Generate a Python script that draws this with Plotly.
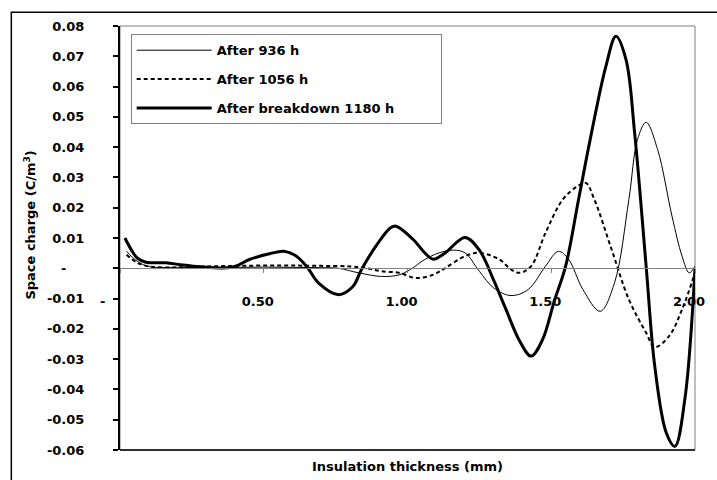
import plotly.graph_objects as go

# ---------------- data ----------------
x_936 = [0.023, 0.06, 0.10, 0.20, 0.30, 0.40, 0.50, 0.60, 0.70, 0.76, 0.83, 0.91, 0.97,
         1.01, 1.06, 1.11, 1.16, 1.20, 1.25, 1.30, 1.36, 1.42, 1.48, 1.525, 1.56, 1.61,
         1.67, 1.72, 1.77, 1.80, 1.83, 1.87, 1.92, 1.955, 1.98, 2.00]
y_936 = [0.0056, 0.0023, 0.0006, 0.0003, 0.0002, 0.0003, 0.0004, 0.0003, 0.0002, 0.0000,
         -0.0015, -0.0027, -0.0022, -0.0004, 0.0029, 0.0051, 0.0060, 0.0051, -0.0010,
         -0.0065, -0.0090, -0.0070, 0.0007, 0.0056, 0.0030, -0.0070, -0.0142, -0.0048,
         0.0227, 0.0425, 0.0482, 0.0392, 0.0172, 0.0040, -0.0015, 0.0007]

x_1056 = [0.023, 0.06, 0.11, 0.20, 0.30, 0.40, 0.50, 0.60, 0.70, 0.80, 0.86, 0.91, 0.97,
          1.03, 1.09, 1.13, 1.20, 1.25, 1.32, 1.36, 1.39, 1.43, 1.48, 1.54, 1.59, 1.62,
          1.65, 1.71, 1.77, 1.83, 1.86, 1.91, 1.955, 2.00]
y_1056 = [0.0045, 0.0018, 0.0005, 0.0003, 0.0006, 0.0008, 0.0009, 0.0009, 0.0008, 0.0006,
          0.0000, -0.0010, -0.0015, -0.0032, -0.0021, 0.0000, 0.0040, 0.0051, 0.0029,
          -0.0004, -0.0015, 0.0007, 0.0117, 0.0227, 0.0270, 0.0282, 0.0227, 0.0062,
          -0.0103, -0.0213, -0.0260, -0.0224, -0.0136, -0.0015]

x_1180 = [0.017, 0.04, 0.06, 0.09, 0.16, 0.21, 0.28, 0.36, 0.40, 0.45, 0.52, 0.57, 0.61,
          0.65, 0.69, 0.76, 0.81, 0.84, 0.89, 0.94, 0.96, 1.02, 1.06, 1.09, 1.13, 1.20,
          1.25, 1.30, 1.34, 1.39, 1.43, 1.47, 1.51, 1.55, 1.595, 1.64, 1.69, 1.725, 1.76,
          1.79, 1.83, 1.86, 1.90, 1.93, 1.965, 2.00]
y_1180 = [0.0100, 0.0060, 0.0034, 0.0020, 0.0018, 0.0012, 0.0005, 0.0001, 0.0006, 0.0029,
          0.0048, 0.0056, 0.0042, 0.0005, -0.0048, -0.0087, -0.0060, -0.0004, 0.0073,
          0.0133, 0.0139, 0.0095, 0.0051, 0.0030, 0.0050, 0.0102, 0.0060, -0.0040,
          -0.0130, -0.0240, -0.0290, -0.0235, -0.0110, 0.0007, 0.0227, 0.0447, 0.0667,
          0.0766, 0.0689, 0.0447, 0.0007, -0.0323, -0.0543, -0.0588, -0.0430, 0.0000]

series_names = ["After 936 h", "After 1056 h", "After breakdown 1180 h"]

y_tick_vals = [0.08, 0.07, 0.06, 0.05, 0.04, 0.03, 0.02, 0.01, 0.0,
               -0.01, -0.02, -0.03, -0.04, -0.05, -0.06]
y_tick_text = ["0.08", "0.07", "0.06", "0.05", "0.04", "0.03", "0.02", "0.01",
               "-\u00a0\u00a0\u00a0\u00a0",
               "-0.01", "-0.02", "-0.03", "-0.04", "-0.05", "-0.06"]
x_tick_vals = [0.0, 0.5, 1.0, 1.5, 2.0]
x_tick_text = ["-\u00a0\u00a0\u00a0\u00a0\u00a0", "0.50", "1.00", "1.50", "2.00"]

x_title = "Insulation thickness (mm)"
y_title = "Space charge (C/m<sup>3</sup>)"

# ---------------- figure ----------------
FONT = dict(family="DejaVu Sans", size=13, color="black", weight="bold")
X_POS = 0.06 / 0.14  # x axis drawn at y = 0
PAD = "\u00a0" * 9   # widens the legend box like the reference

fig = go.Figure()
fig.add_trace(go.Scatter(x=x_936, y=y_936, name=series_names[0], mode="lines",
                         line=dict(color="black", width=1, shape="spline"),
                         legendgroup="a"))
fig.add_trace(go.Scatter(x=x_1056, y=y_1056, name=series_names[1], mode="lines",
                         line=dict(color="black", width=2, dash="4px,3px", shape="spline"),
                         legendgroup="b"))
fig.add_trace(go.Scatter(x=x_1180, y=y_1180, name=series_names[2] + PAD, mode="lines",
                         line=dict(color="black", width=3, shape="spline"),
                         legendgroup="c"))

fig.update_layout(
    width=717, height=480,
    margin=dict(l=120, r=20, t=26, b=30),
    paper_bgcolor="white", plot_bgcolor="white",
    font=FONT,
    showlegend=True,
    legend=dict(x=0.0186, y=0.9805, xanchor="left", yanchor="top",
                bordercolor="#808080", borderwidth=1, bgcolor="white",
                font=FONT, tracegroupgap=9, itemwidth=75),
    xaxis=dict(range=[0, 2], anchor="free", position=X_POS,
               tickvals=x_tick_vals, ticktext=x_tick_text,
               ticks="outside", ticklen=4, tickcolor="#808080", tickwidth=1,
               showline=True, linecolor="#808080", linewidth=1,
               showgrid=False, zeroline=False,
               ticklabelshift=-6, ticklabelstandoff=17, tickfont=FONT),
    yaxis=dict(range=[-0.06, 0.08], tickvals=y_tick_vals, ticktext=y_tick_text,
               ticks="outside", ticklen=5, tickcolor="black", tickwidth=1.5,
               showline=True, linecolor="black", linewidth=2,
               showgrid=False, zeroline=False,
               ticklabelstandoff=26, tickfont=FONT),
    xaxis2=dict(range=[0, 2], overlaying="x", anchor="free", position=X_POS,
                tickvals=x_tick_vals, showticklabels=False,
                ticks="inside", ticklen=4, tickcolor="#808080", tickwidth=1,
                showline=False, showgrid=False, zeroline=False),
    yaxis2=dict(range=[-0.06, 0.08], overlaying="y", anchor="x",
                tickvals=y_tick_vals, showticklabels=False,
                ticks="inside", ticklen=5, tickcolor="black", tickwidth=1.5,
                showline=False, showgrid=False, zeroline=False),
    shapes=[
        dict(type="rect", xref="paper", yref="paper", x0=0, x1=1, y0=0, y1=1,
             line=dict(color="#808080", width=1), layer="below"),
        dict(type="line", xref="paper", yref="paper", x0=0, x1=1, y0=0, y1=0,
             line=dict(color="black", width=1.5)),
        dict(type="rect", xref="paper", yref="paper", x0=-0.189, x1=1.2,
             y0=-0.3, y1=1.0323, line=dict(color="black", width=1.5)),
    ],
    annotations=[
        dict(text=y_title, xref="paper", yref="paper", x=-0.156, y=0.53,
             textangle=-90, showarrow=False, xanchor="center", yanchor="middle",
             font=FONT),
        dict(text=x_title, xref="paper", yref="paper", x=0.5, y=-0.04,
             showarrow=False, xanchor="center", yanchor="middle", font=FONT),
    ],
)

fig.write_html("out.html")
